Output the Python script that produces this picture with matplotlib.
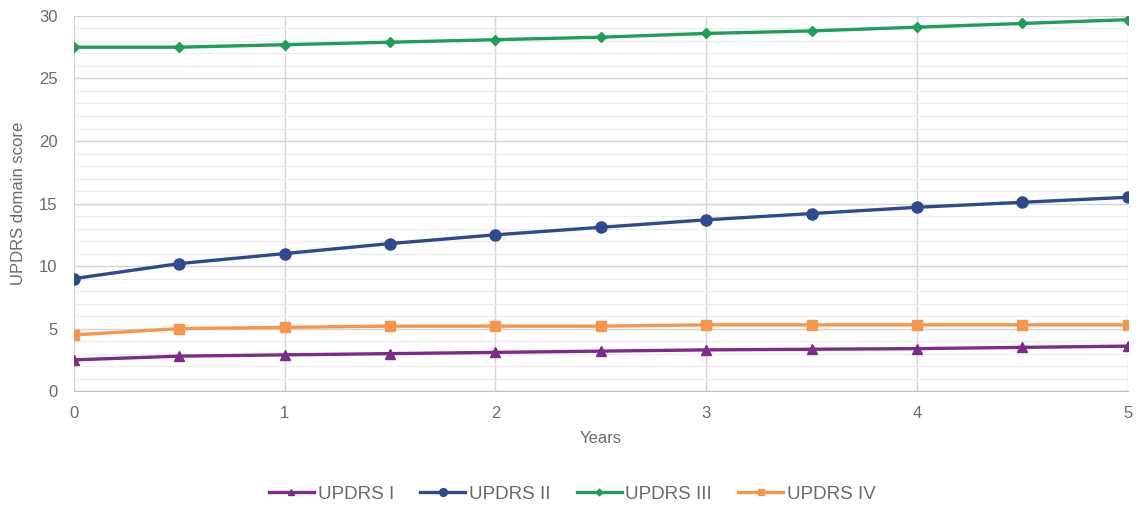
import numpy as np
import matplotlib
matplotlib.use('agg')
import matplotlib.pyplot as plt
from matplotlib.ticker import MultipleLocator

plt.rcParams['font.family'] = ['Liberation Sans', 'DejaVu Sans']

years = [0, 0.5, 1, 1.5, 2, 2.5, 3, 3.5, 4, 4.5, 5]
updrs_1 = [2.5, 2.8, 2.9, 3.0, 3.1, 3.2, 3.3, 3.35, 3.4, 3.5, 3.6]
updrs_2 = [9.0, 10.2, 11.0, 11.8, 12.5, 13.1, 13.7, 14.2, 14.7, 15.1, 15.5]
updrs_3 = [27.5, 27.5, 27.7, 27.9, 28.1, 28.3, 28.6, 28.8, 29.1, 29.4, 29.7]
updrs_4 = [4.5, 5.0, 5.1, 5.2, 5.2, 5.2, 5.3, 5.3, 5.3, 5.3, 5.3]

series = [
    ("UPDRS I", updrs_1, "#7D2A8C", "^", 7),
    ("UPDRS II", updrs_2, "#2E4A8E", "o", 8),
    ("UPDRS III", updrs_3, "#1E9E57", "D", 5),
    ("UPDRS IV", updrs_4, "#F7964A", "s", 6.5),
]

fig = plt.figure(figsize=(11.39, 5.14), dpi=100)
ax = fig.add_axes([0.065, 0.239, 0.925, 0.730])

for name, vals, color, marker, ms in series:
    ax.plot(years, vals, color=color, lw=2.4, marker=marker, markersize=ms,
            label=name, zorder=3)

ax.set_xlim(0, 5)
ax.set_ylim(0, 30)
ax.xaxis.set_major_locator(MultipleLocator(1))
ax.yaxis.set_major_locator(MultipleLocator(5))
ax.yaxis.set_minor_locator(MultipleLocator(1))

ax.grid(which='major', color='#d4d4d4', lw=1)
ax.grid(which='minor', axis='y', color='#ececec', lw=0.8)
ax.set_axisbelow(True)

for side in ['top', 'right', 'left']:
    ax.spines[side].set_visible(False)
ax.spines['bottom'].set_color('#bfbfbf')

ax.tick_params(which='both', length=0, labelsize=12, colors='#6a6a6a')
ax.tick_params(axis='x', pad=11)
ax.tick_params(axis='y', pad=12)
ax.set_xlabel("Years", fontsize=12, color='#6a6a6a', labelpad=7)
ax.set_ylabel("UPDRS domain score", fontsize=12, color='#6a6a6a', labelpad=9)

ax.legend(loc='center', bbox_to_anchor=(0.473, -0.275), ncol=4, frameon=False,
          fontsize=13.5, labelcolor='#6a6a6a', handlelength=2.4, columnspacing=1.4,
          handletextpad=0.2, markerscale=0.7)

fig.savefig("out.png", dpi=100)
